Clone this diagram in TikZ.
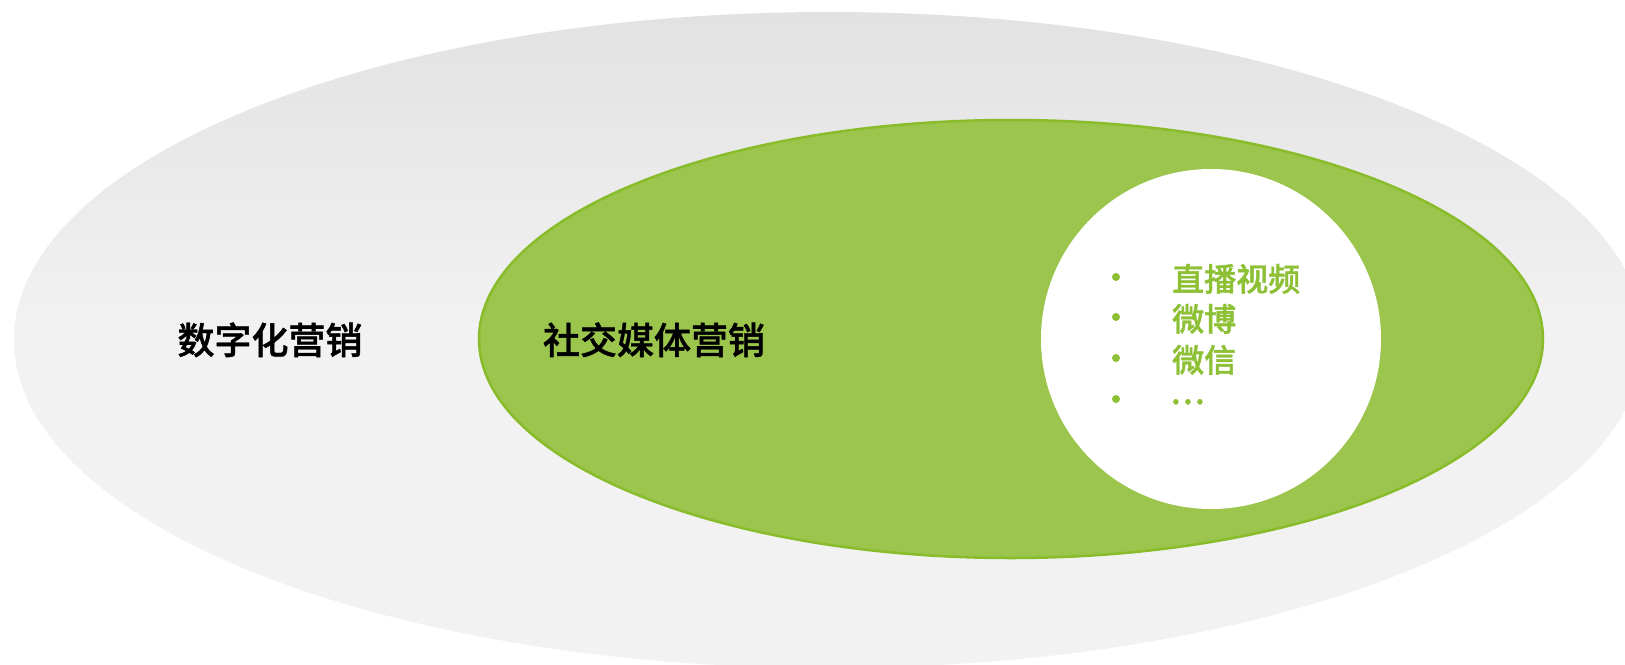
\documentclass[tikz,border=0pt]{standalone}
\usepackage{fontspec}
\newfontfamily\cjk{Noto Sans CJK SC}[BoldFont={Noto Sans CJK SC Medium}, BoldFeatures={FakeBold=1.2}]
\definecolor{outerTop}{RGB}{226,226,226}
\definecolor{outerBot}{RGB}{242,242,242}
\definecolor{greenFill}{RGB}{155,197,77}
\definecolor{greenLine}{RGB}{136,188,42}
\definecolor{greenText}{RGB}{141,192,52}
\tikzset{
  bigtext/.style={font=\cjk\bfseries\fontsize{37}{40}\selectfont, text=black, inner sep=0pt, anchor=base},
  itemtext/.style={font=\cjk\bfseries\fontsize{32}{36}\selectfont, text=greenText, inner sep=0pt, anchor=base west},
  bulletdot/.style={circle, fill=greenText, inner sep=0pt, minimum size=8pt}
}
\begin{document}
\begin{tikzpicture}[x=1pt,y=-1pt]
\useasboundingbox (0,0) rectangle (1625,664);
\clip (0,0) rectangle (1625,664);
\fill[white] (0,0) rectangle (1625,664);
% outer ellipse
\shade[top color=outerTop, bottom color=outerBot, middle color=outerBot!98!white] (829,340) ellipse [x radius=815pt, y radius=328pt];
% green ellipse
\draw[fill=greenFill, draw=greenLine, line width=2.5pt] (1011,339) ellipse [x radius=532pt, y radius=219pt];
% white circle
\fill[white] (1211,339) circle [radius=170pt];
% labels
\node[bigtext] (digital) at (270,354) {数字化营销};
\node[bigtext] (social) at (654,354) {社交媒体营销};
% items
\node[bulletdot] (b1) at (1116,277) {};
\node[bulletdot] (b2) at (1116,317) {};
\node[bulletdot] (b3) at (1116,358) {};
\node[bulletdot] (b4) at (1116,399) {};
\node[itemtext] (i1) at (1172,291) {直播视频};
\node[itemtext] (i2) at (1172,331) {微博};
\node[itemtext] (i3) at (1172,372) {微信};
\node[itemtext] (i4) at (1170,404) {…};
\end{tikzpicture}
\end{document}
